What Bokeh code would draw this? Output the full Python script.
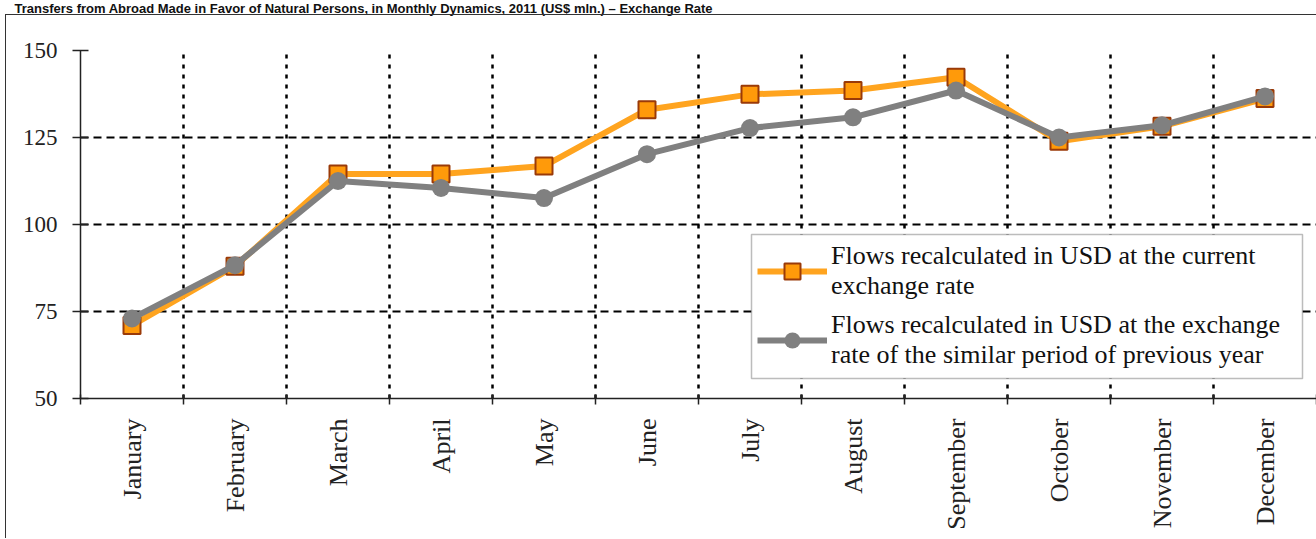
import numpy as np
from bokeh.plotting import figure
from bokeh.models import FixedTicker, Legend, LegendItem, Title, BoxAnnotation, InlineStyleSheet
from bokeh.embed import file_html
from bokeh.resources import INLINE

# ---------------- data ----------------
months = ["January", "February", "March", "April", "May", "June",
          "July", "August", "September", "October", "November", "December"]
current_rate = [71.0, 88.0, 114.5, 114.5, 116.8, 133.0, 137.4, 138.5, 142.3, 123.9, 128.2, 136.2]
prev_year_rate = [73.0, 88.3, 112.5, 110.5, 107.6, 120.2, 127.7, 130.8, 138.5, 125.0, 128.5, 136.8]
y_ticks = [50, 75, 100, 125, 150]
title_text = ("Transfers from Abroad Made in Favor of Natural Persons, in Monthly Dynamics, "
              "2011 (US$ mln.) \u2013 Exchange Rate")
label_current = "Flows recalculated in USD at the current\nexchange rate"
label_prev = "Flows recalculated in USD at the exchange\nrate of the similar period of previous year"

n = len(months)
xc = [i + 0.5 for i in range(n)]          # category centres
bounds = list(range(n + 1))               # category boundaries

SERIF = "Liberation Serif"
W, H = 1316, 538
ML, MR, MT = 80, 0, 49
FH = 349
MB = H - MT - FH

p = figure(width=W, height=H, x_range=(0, n), y_range=(50, 150),
           output_backend="svg", toolbar_location=None,
           min_border_left=ML, min_border_right=MR, min_border_top=MT, min_border_bottom=MB)
p.outline_line_color = None
p.background_fill_color = "white"
p.border_fill_color = "white"

# outer frame of the chart page (only its top and left edges fall inside the window)
p.stylesheets = [InlineStyleSheet(css="""
:host::after {
  content: "";
  position: absolute;
  left: 5px; top: 14px;
  width: 1311px; height: 524px;
  box-sizing: border-box;
  border-left: 1.5px solid #333333;
  border-top: 1.5px solid #333333;
  pointer-events: none;
}
""")]

# grids
p.xgrid.ticker = FixedTicker(ticks=bounds[1:])
p.xgrid.grid_line_color = "black"
p.xgrid.grid_line_dash = "4 6"
p.xgrid.grid_line_width = 2.5
p.ygrid.ticker = FixedTicker(ticks=y_ticks[1:])
p.ygrid.grid_line_color = "black"
p.ygrid.grid_line_dash = "8 5"
p.ygrid.grid_line_width = 2.2

# x axis
xa = p.xaxis[0]
xa.ticker = FixedTicker(ticks=xc, minor_ticks=bounds)
xa.major_label_overrides = {xv: m for xv, m in zip(xc, months)}
xa.major_tick_line_color = None
xa.major_tick_out = 6
xa.major_tick_in = 0
xa.minor_tick_line_color = "#222222"
xa.minor_tick_line_width = 1.5
xa.minor_tick_in = 4
xa.minor_tick_out = 6
xa.major_label_orientation = np.pi / 2
xa.major_label_standoff = 14
xa.major_label_text_font = SERIF
xa.major_label_text_font_size = "26px"
xa.major_label_text_color = "#222222"
xa.axis_line_color = "#222222"
xa.axis_line_width = 1.5

# y axis
ya = p.yaxis[0]
ya.ticker = FixedTicker(ticks=y_ticks)
ya.major_tick_in = 8
ya.major_tick_out = 8
ya.major_tick_line_width = 1.5
ya.major_tick_line_color = "#222222"
ya.minor_tick_line_color = None
ya.major_label_standoff = 15
ya.major_label_text_font = SERIF
ya.major_label_text_font_size = "23px"
ya.major_label_text_color = "#222222"
ya.axis_line_color = "#222222"
ya.axis_line_width = 1.5

# series
r1 = p.line(xc, current_rate, line_color="#FFA41F", line_width=6)
r1m = p.scatter(xc, current_rate, marker="square", size=17,
                fill_color="#FF9A0A", line_color="#9A3A08", line_width=2)
r2 = p.line(xc, prev_year_rate, line_color="#808080", line_width=6)
r2m = p.scatter(xc, prev_year_rate, marker="circle", size=18,
                fill_color="#808080", line_color=None)

# legend box (drawn separately so its size matches the reference)
p.add_layout(BoxAnnotation(left=671, right=1222, bottom=20, top=164,
                           left_units="screen", right_units="screen",
                           top_units="screen", bottom_units="screen",
                           fill_color="white", fill_alpha=1.0,
                           line_color="#222222", line_width=1.5))

legend = Legend(items=[LegendItem(label=label_current, renderers=[r1, r1m]),
                       LegendItem(label=label_prev, renderers=[r2, r2m])],
                location=(677, 28), margin=0, padding=0, spacing=9,
                glyph_width=70, glyph_height=40, label_standoff=4,
                label_text_font=SERIF, label_text_font_size="26px",
                label_text_line_height=1.2, label_text_color="#111111",
                border_line_color=None, background_fill_alpha=0.0)
p.add_layout(legend)

# page heading above the chart (blank trailing lines lift it to the top edge)
p.add_layout(Title(text=title_text + "\n \n ", align="left", vertical_align="top",
                   offset=14 - ML, standoff=0, text_line_height=1.1,
                   text_font="Liberation Sans", text_font_style="bold",
                   text_font_size="13px", text_color="#111111"), "above")

open("out.html", "w").write(file_html(p, INLINE))
